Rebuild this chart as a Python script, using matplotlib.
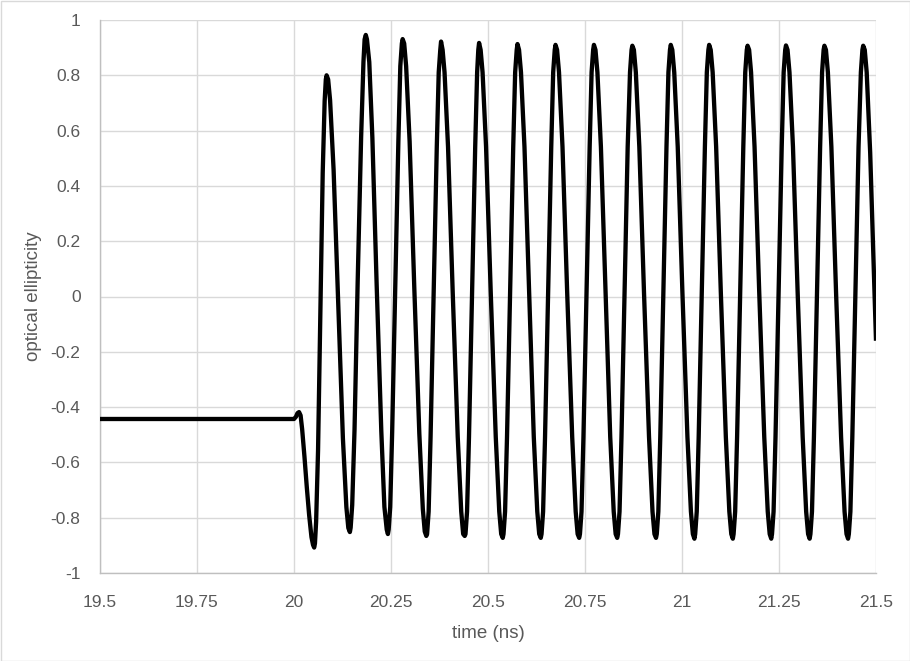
import numpy as np
import matplotlib
matplotlib.use('Agg')
import matplotlib.pyplot as plt
from matplotlib.patches import Rectangle

plt.rcParams['font.family'] = ['Liberation Sans', 'DejaVu Sans']

# time in ps (one row per half swing)
time_ps = [19500, 20000, 20005, 20009, 20013, 20017, 20021, 20027, 20033, 20039, 20045, 20049, 20052,
           20054, 20057, 20062, 20068, 20074, 20079, 20082, 20084,
           20088, 20093, 20102, 20114, 20126, 20135, 20140, 20144,
           20146, 20150, 20156, 20164, 20173, 20179, 20182, 20185,
           20188, 20194, 20202, 20213, 20225, 20233, 20239, 20242,
           20244, 20248, 20253, 20261, 20269, 20274, 20278, 20280,
           20284, 20289, 20298, 20310, 20323, 20332, 20337, 20341,
           20343, 20347, 20352, 20360, 20368, 20373, 20377, 20379,
           20383, 20388, 20397, 20409, 20422, 20431, 20436, 20440,
           20442, 20446, 20451, 20459, 20467, 20472, 20475, 20477,
           20481, 20486, 20495, 20507, 20520, 20529, 20534, 20538,
           20540, 20544, 20549, 20557, 20565, 20570, 20574, 20576,
           20580, 20585, 20594, 20606, 20618, 20627, 20632, 20636,
           20638, 20642, 20647, 20655, 20663, 20668, 20672, 20674,
           20678, 20683, 20692, 20704, 20717, 20726, 20731, 20735,
           20737, 20741, 20746, 20754, 20762, 20767, 20771, 20773,
           20777, 20782, 20791, 20803, 20815, 20824, 20829, 20833,
           20835, 20839, 20844, 20852, 20860, 20866, 20870, 20872,
           20876, 20881, 20890, 20902, 20915, 20924, 20929, 20933,
           20935, 20939, 20944, 20952, 20960, 20965, 20969, 20971,
           20975, 20980, 20989, 21001, 21014, 21023, 21028, 21032,
           21034, 21038, 21043, 21051, 21059, 21064, 21068, 21070,
           21074, 21079, 21088, 21100, 21113, 21122, 21127, 21131,
           21133, 21137, 21142, 21150, 21158, 21163, 21167, 21169,
           21173, 21178, 21187, 21199, 21212, 21221, 21226, 21230,
           21232, 21236, 21241, 21249, 21257, 21262, 21266, 21268,
           21272, 21277, 21286, 21298, 21311, 21320, 21325, 21329,
           21331, 21335, 21340, 21348, 21356, 21361, 21365, 21367,
           21371, 21376, 21385, 21397, 21410, 21419, 21424, 21428,
           21430, 21434, 21439, 21447, 21455, 21461, 21465, 21467,
           21471, 21476, 21485, 21500]

ellipticity = [-0.443, -0.443, -0.435, -0.422, -0.418, -0.43, -0.48, -0.58, -0.69, -0.79, -0.87, -0.898, -0.908,
               -0.893, -0.815, -0.556, -0.054, 0.448, 0.707, 0.785, 0.800,
               0.785, 0.710, 0.460, -0.026, -0.512, -0.762, -0.837, -0.852,
               -0.836, -0.754, -0.482, 0.047, 0.576, 0.848, 0.930, 0.946,
               0.930, 0.848, 0.574, 0.044, -0.487, -0.761, -0.843, -0.859,
               -0.843, -0.761, -0.490, 0.036, 0.562, 0.833, 0.915, 0.931,
               0.915, 0.833, 0.561, 0.033, -0.496, -0.768, -0.850, -0.866,
               -0.859, -0.778, -0.508, 0.017, 0.541, 0.811, 0.892, 0.922,
               0.892, 0.811, 0.541, 0.017, -0.508, -0.778, -0.859, -0.866,
               -0.859, -0.778, -0.508, 0.017, 0.541, 0.811, 0.892, 0.917,
               0.892, 0.811, 0.541, 0.017, -0.508, -0.778, -0.859, -0.873,
               -0.859, -0.778, -0.508, 0.017, 0.541, 0.811, 0.892, 0.913,
               0.892, 0.811, 0.541, 0.017, -0.508, -0.778, -0.859, -0.873,
               -0.859, -0.778, -0.508, 0.017, 0.541, 0.811, 0.892, 0.910,
               0.892, 0.811, 0.541, 0.017, -0.508, -0.778, -0.859, -0.873,
               -0.859, -0.778, -0.508, 0.017, 0.541, 0.811, 0.892, 0.910,
               0.892, 0.811, 0.541, 0.017, -0.508, -0.778, -0.859, -0.873,
               -0.859, -0.778, -0.508, 0.017, 0.541, 0.811, 0.892, 0.907,
               0.892, 0.811, 0.541, 0.017, -0.508, -0.778, -0.859, -0.873,
               -0.859, -0.778, -0.508, 0.017, 0.541, 0.811, 0.892, 0.910,
               0.892, 0.811, 0.541, 0.017, -0.508, -0.778, -0.859, -0.876,
               -0.859, -0.778, -0.508, 0.017, 0.541, 0.811, 0.892, 0.910,
               0.892, 0.811, 0.541, 0.017, -0.508, -0.778, -0.859, -0.876,
               -0.859, -0.778, -0.508, 0.017, 0.541, 0.811, 0.892, 0.907,
               0.892, 0.811, 0.541, 0.017, -0.508, -0.778, -0.859, -0.876,
               -0.859, -0.778, -0.508, 0.017, 0.541, 0.811, 0.892, 0.908,
               0.892, 0.811, 0.541, 0.017, -0.508, -0.778, -0.859, -0.876,
               -0.859, -0.778, -0.508, 0.017, 0.541, 0.811, 0.892, 0.907,
               0.892, 0.811, 0.541, 0.017, -0.508, -0.778, -0.859, -0.876,
               -0.859, -0.778, -0.508, 0.017, 0.541, 0.811, 0.892, 0.907,
               0.892, 0.811, 0.520, -0.160]

xticks = [19.5, 19.75, 20, 20.25, 20.5, 20.75, 21, 21.25, 21.5]
xticklabels = ['19.5', '19.75', '20', '20.25', '20.5', '20.75', '21', '21.25', '21.5']
yticks = [-1, -0.8, -0.6, -0.4, -0.2, 0, 0.2, 0.4, 0.6, 0.8, 1]
yticklabels = ['-1', '-0.8', '-0.6', '-0.4', '-0.2', '0', '0.2', '0.4', '0.6', '0.8', '1']

textColor = '#595959'
gridColor = '#d9d9d9'

fig = plt.figure(figsize=(9.1, 6.61), dpi=100)
ax = fig.add_axes([100/910, 1 - 573/661, 776/910, 553/661])

t = np.array(time_ps) / 1000.0
ax.plot(t, ellipticity, color='black', linewidth=3.1, solid_joinstyle='round', solid_capstyle='butt', zorder=3)

ax.set_xlim(19.5, 21.5)
ax.set_ylim(-1, 1)
ax.set_xticks(xticks)
ax.set_xticklabels(xticklabels)
ax.set_yticks(yticks)
ax.set_yticklabels(yticklabels)
ax.tick_params(axis='both', length=0, labelsize=12.5, labelcolor=textColor)
ax.tick_params(axis='x', pad=16)
ax.tick_params(axis='y', pad=14)
ax.grid(True, color=gridColor, linewidth=1)
ax.set_axisbelow(True)

for side in ['top', 'right']:
    ax.spines[side].set_visible(False)
for side in ['left', 'bottom']:
    ax.spines[side].set_color('#bfbfbf')
    ax.spines[side].set_linewidth(1)

ax.set_xlabel('time (ns)', fontsize=13.5, color=textColor, va='center')
ax.xaxis.set_label_coords(0.5, -(633 - 573) / 553)
ax.set_ylabel('optical ellipticity', fontsize=13.5, color=textColor, va='center', ha='center')
ax.yaxis.set_label_coords(-(100 - 33) / 776, 0.5)

fig.patches.append(Rectangle((0.5/910, 0.5/661), 1 - 1/910, 1 - 1/661, transform=fig.transFigure,
                             fill=False, edgecolor=gridColor, linewidth=1))

fig.savefig('out.png', dpi=100)
